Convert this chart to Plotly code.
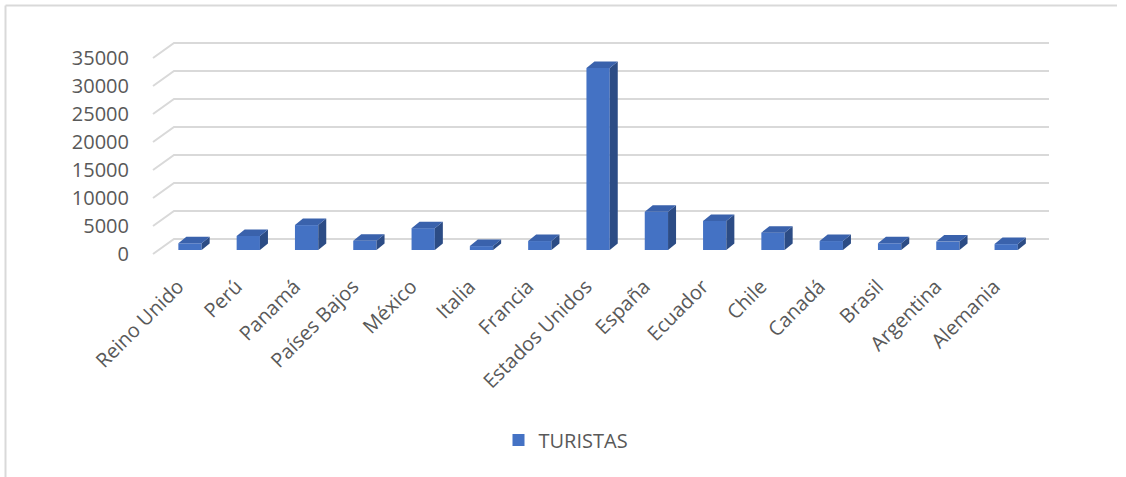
import plotly.graph_objects as go

# ---- data ----
categories = ["Reino Unido", "Perú", "Panamá", "Países Bajos", "México", "Italia",
              "Francia", "Estados Unidos", "España", "Ecuador", "Chile", "Canadá",
              "Brasil", "Argentina", "Alemania"]
turistas = [1200, 2500, 4450, 1650, 3900, 700, 1600, 32500, 6850, 5200, 3100, 1600, 1200, 1500, 1050]
y_ticks = [0, 5000, 10000, 15000, 20000, 25000, 30000, 35000]
series_name = "TURISTAS"

# ---- geometry / style (pixel layout of the oblique 3D look) ----
W, H = 1126, 477
L, R, T, B = 150, 1060, 30, 270          # plot area in px
X0PX, XSTEP = 190.0, 58.3                # px of category 0, px per category
Y0PX, YPX = 254.0, 0.0056                # px of value 0 (front plane), px per unit

def xd(px):
    return (px - X0PX) / XSTEP

def ydu(dpx):
    return dpx / YPX

x_range = [xd(L), xd(R)]
y_range = [(Y0PX - B) / YPX, (Y0PX - T) / YPX]

BASE = ydu(254 - 250)        # bars sit slightly behind the front edge of the floor
BW = 23.3 / XSTEP            # bar front-face width
DDX, DDY = 8.0 / XSTEP, ydu(6.5)   # bar depth
WX_F, WX_B, WX_E = xd(153), xd(174), xd(1049)
WDY = ydu(15)

FRONT = "#4472C4"
TOP = "#3A62AC"
SIDE = "#2C4C85"
GRID = "#D9D9D9"
TXT = "#595959"
FONT = "Open Sans"

idx = list(range(len(categories)))

fig = go.Figure()

# front faces
fig.add_trace(go.Bar(
    x=idx, y=turistas, base=[BASE] * len(idx), width=BW,
    marker=dict(color=FRONT, line=dict(width=0)),
    name=series_name, showlegend=True, hoverinfo="skip",
))

# side & top faces computed from values
sx, sy, tx, ty = [], [], [], []
for i, v in zip(idx, turistas):
    x1 = i + BW / 2
    x0 = i - BW / 2
    top = BASE + v
    sx += [x1, x1 + DDX, x1 + DDX, x1, x1, None]
    sy += [BASE, BASE + DDY, top + DDY, top, BASE, None]
    tx += [x0, x1, x1 + DDX, x0 + DDX, x0, None]
    ty += [top, top, top + DDY, top + DDY, top, None]

fig.add_trace(go.Scatter(x=sx, y=sy, mode="lines", fill="toself", fillcolor=SIDE,
                         line=dict(width=0, color=SIDE), showlegend=False, hoverinfo="skip"))
fig.add_trace(go.Scatter(x=tx, y=ty, mode="lines", fill="toself", fillcolor=TOP,
                         line=dict(width=0, color=TOP), showlegend=False, hoverinfo="skip"))

# gridlines: diagonal on the left wall + horizontal on the back wall
shapes = []
for v in y_ticks:
    shapes.append(dict(type="path", xref="x", yref="y", layer="below",
                       path=f"M {WX_F},{v} L {WX_B},{v + WDY} L {WX_E},{v + WDY}",
                       line=dict(color=GRID, width=2)))

# chart border (top & left visible)
def xp(px):
    return (px - L) / (R - L)

def yp(py):
    return (B - py) / (B - T)

shapes.append(dict(type="line", xref="paper", yref="paper",
                   x0=xp(5.5), x1=xp(1117), y0=yp(5.5), y1=yp(5.5),
                   line=dict(color=GRID, width=2)))
shapes.append(dict(type="line", xref="paper", yref="paper",
                   x0=xp(5.5), x1=xp(5.5), y0=yp(5.5), y1=yp(480),
                   line=dict(color=GRID, width=2)))

fig.update_layout(
    width=W, height=H,
    margin=dict(l=L, r=W - R, t=T, b=H - B, pad=0),
    paper_bgcolor="white", plot_bgcolor="white",
    font=dict(family=FONT, size=20, color=TXT),
    shapes=shapes,
    showlegend=True,
    hovermode=False,
    legend=dict(orientation="h", x=xp(566), y=yp(440), xanchor="center", yanchor="middle",
                font=dict(family=FONT, size=20, color=TXT), bgcolor="rgba(0,0,0,0)"),
    xaxis=dict(range=x_range, tickmode="array", tickvals=idx, ticktext=categories,
               tickangle=-45, showgrid=False, zeroline=False, showline=False, ticks="",
               ticklabelshift=-12,
               tickfont=dict(family=FONT, size=20, color=TXT), fixedrange=True),
    yaxis=dict(range=y_range, tickmode="array", tickvals=y_ticks,
               ticktext=[str(t) for t in y_ticks], showgrid=False, zeroline=False,
               showline=False, ticks="", ticklabelstandoff=20,
               tickfont=dict(family=FONT, size=20, color=TXT), fixedrange=True),
)

fig.write_html("out.html", config={"displayModeBar": False},
               post_script="document.body.style.margin='0';")
